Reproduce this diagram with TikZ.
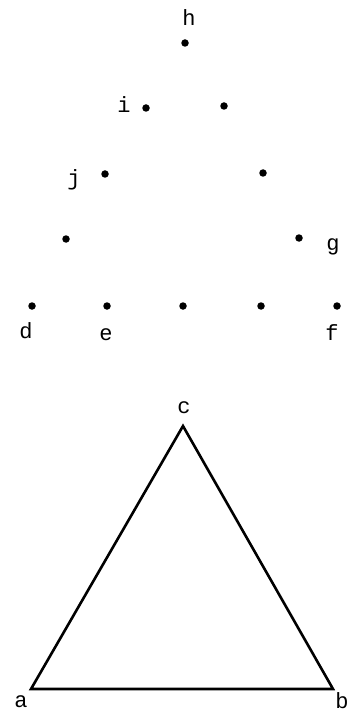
\documentclass[tikz,border=0pt]{standalone}
\usepackage{fontspec}
\setmonofont{Liberation Mono}
\begin{document}
\begin{tikzpicture}[x=1pt,y=-1pt,
  dot/.style={circle,fill=black,inner sep=0pt,minimum size=7.5pt},
  lbl/.style={font=\ttfamily\fontsize{22}{22}\selectfont,inner sep=0pt,anchor=base},
  edge/.style={line width=2.6pt,line join=miter,line cap=round}]
\useasboundingbox (0,0) rectangle (354,711);
% dots
\node[dot] (h) at (185,43) {};
\node[dot] (i) at (146,108) {};
\node[dot] (r2) at (224,106) {};
\node[dot] (j) at (105,174) {};
\node[dot] (r3) at (263,173) {};
\node[dot] (l4) at (66,239) {};
\node[dot] (g) at (299,238) {};
\node[dot] (d) at (32,306) {};
\node[dot] (e) at (107,306) {};
\node[dot] (m5) at (183,306) {};
\node[dot] (r5) at (261,306) {};
\node[dot] (f) at (337,306) {};
% labels
\node[lbl] (lh) at (189,26) {h};
\node[lbl] (li) at (124,113) {i};
\node[lbl] (lj) at (74,186) {j};
\node[lbl] (lg) at (333,250) {g};
\node[lbl] (ld) at (26,338) {d};
\node[lbl] (le) at (106,340) {e};
\node[lbl] (lf) at (332,340) {f};
% triangle
\coordinate (a) at (31,689);
\coordinate (b) at (333,689);
\coordinate (c) at (183,426);
\draw[edge] (a) -- (b) -- (c) -- cycle;
\node[lbl] (lc) at (184,413) {c};
\node[lbl] (la) at (21,707) {a};
\node[lbl] (lb) at (342,708) {b};
\end{tikzpicture}
\end{document}
